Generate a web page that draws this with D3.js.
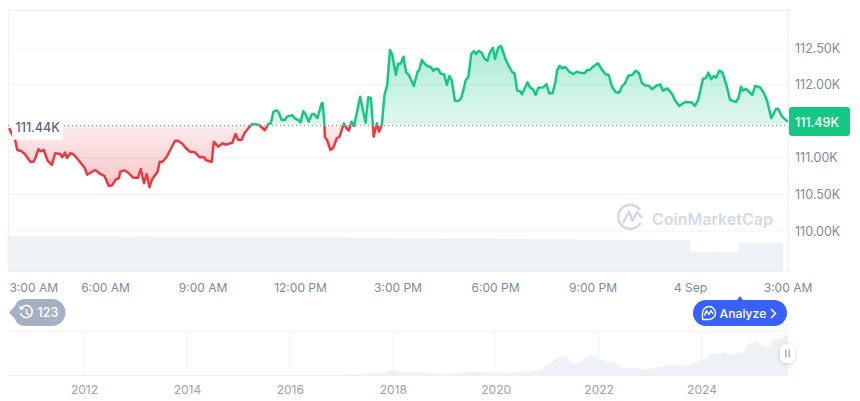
<!DOCTYPE html>
<html>
<head>
<meta charset="utf-8">
<script src="https://cdn.jsdelivr.net/npm/d3@7"></script>
<style>
html, body { margin: 0; padding: 0; background: #fff; overflow: hidden; }
svg { display: block; font-family: Inter, "Noto Sans", sans-serif; }
</style>
</head>
<body>
<script>
// minutes after 3:00 AM, 3 Sep
var minutes = [3,6,14,18,25,32,42,48,51,57,61,67,74,82,88,97,101,106,110,116,121,131,143,147,162,171,179,187,193,200,206,208,216,224,232,241,246,252,257,262,267,277,281,286,294,303,309,314,322,329,337,346,355,363,366,377,381,389,397,402,415,421,426,432,438,448,451,464,475,481,486,491,497,501,506,512,516,526,531,537,541,546,550,556,562,566,572,580,582,585,586,590,596,601,608,613,621,626,630,635,640,651,661,666,671,676,682,686,691,696,701,706,710,717,721,726,731,736,741,750,757,760,765,771,777,781,786,790,795,800,806,811,816,820,826,832,837,841,846,851,856,861,865,870,876,881,886,891,896,900,906,911,920,926,932,936,941,946,950,960,965,970,975,980,989,995,1000,1006,1011,1015,1019,1024,1030,1037,1044,1051,1057,1066,1070,1075,1081,1090,1098,1104,1110,1116,1123,1129,1135,1140,1146,1153,1160,1166,1171,1177,1185,1190,1197,1205,1210,1218,1227,1232,1240,1251,1263,1269,1275,1284,1289,1294,1299,1304,1308,1314,1320,1328,1334,1345,1350,1354,1358,1363,1368,1375,1380,1389,1395,1402,1410,1419,1423,1430,1441];
var prices = [111403,111357,111243,111107,111093,111052,110947,110947,110984,111116,111089,111107,110961,110902,111062,111052,111007,111070,110997,111062,111052,110970,110857,110769,110833,110779,110752,110615,110624,110706,110724,110810,110829,110788,110728,110728,110847,110652,110779,110597,110706,110810,110947,110943,111015,111144,111230,111234,111198,111134,111083,111075,111007,111007,110970,110943,111220,111152,111198,111179,111206,111325,111243,111243,111343,111435,111462,111452,111376,111458,111471,111630,111649,111616,111516,111516,111562,111581,111534,111516,111485,111635,111598,111493,111598,111598,111540,111745,111745,111448,111280,111243,111107,111130,111267,111288,111471,111403,111370,111493,111435,111835,111480,111827,111813,111288,111471,111357,111448,111858,111995,112473,112418,112131,112286,112286,112381,112163,112131,111981,112176,112199,112336,112277,112245,112245,112190,112217,112213,112149,112141,111995,112118,112063,111780,111776,111803,111903,112063,112108,112414,112459,112418,112463,112428,112350,112327,112449,112504,112350,112504,112531,112336,112245,112168,112154,111917,111913,111868,112031,111958,111936,111858,111958,111963,112008,111881,111881,112018,112199,112254,112223,112240,112176,112145,112176,112163,112158,112199,112199,112245,112291,112199,112141,112131,111971,111895,111889,111981,112018,112122,112131,112190,112154,112026,111990,111981,111936,111981,112004,111917,111949,111872,111790,111708,111762,111758,111708,111790,112081,112086,112163,112072,112118,112094,112190,112163,111971,111790,111762,111827,111971,111917,111944,111909,111858,111981,111963,111903,111790,111540,111671,111667,111562,111490];
var openPrice = 111440;
var lastPrice = 111490;

var volumeMinutes = [0,30,60,90,120,150,180,210,240,270,300,330,360,390,420,450,480,510,540,570,600,630,660,690,720,750,780,810,840,870,900,930,960,990,1020,1050,1080,1110,1140,1170,1200,1230,1260,1290,1320,1350,1380,1432,1440];
var volumeValues = [97,97,96,97,96,96,96,95,96,95,95,95,95,94,94,94,94,93,93,93,93,92,92,92,91,91,91,90,90,90,89,89,88,88,88,87,87,87,86,87,86,86,53,52,53,78,78,0,78];

var priceTicks = [110000,110500,111000,111500,112000,112500];
var hourTicks = [0,180,360,540,720,900,1080,1260,1440];
var hourLabels = ["3:00 AM","6:00 AM","9:00 AM","12:00 PM","3:00 PM","6:00 PM","9:00 PM","4 Sep","3:00 AM"];

var navYears = [2010.52,2013.9,2015.5,2017.0,2017.5,2017.8,2017.96,2018.1,2018.3,2018.6,2019.0,2019.3,2019.5,2019.8,2020.0,2020.2,2020.5,2020.7,2020.9,2021.0,2021.1,2021.2,2021.3,2021.38,2021.47,2021.56,2021.7,2021.78,2021.86,2021.95,2022.05,2022.2,2022.3,2022.45,2022.55,2022.7,2022.9,2023.0,2023.2,2023.3,2023.55,2023.7,2023.85,2024.0,2024.1,2024.2,2024.3,2024.45,2024.6,2024.8,2024.9,2024.98,2025.07,2025.17,2025.3,2025.4,2025.5,2025.58,2025.65,2025.68];
var navPrices = [0,1,1,1,3,7,16,10,8,7,4,5,11,8,8,6,10,11,16,30,38,52,58,55,37,33,45,55,62,50,44,42,39,22,21,20,17,17,25,28,29,26,35,44,48,66,63,66,59,66,90,97,102,86,82,105,107,113,118,112];
var navYearTicks = [2012,2014,2016,2018,2020,2022,2024];

var width = 860, height = 401;
var plotLeft = 8, plotRight = 788, plotTop = 10, plotBottom = 271;

var svg = d3.select("body").append("svg")
    .attr("width", width)
    .attr("height", height);

var x = d3.scaleLinear().domain([0, 1440]).range([7.5, 787.5]);
var y = d3.scaleLinear().domain([110000, 112500]).range([231, 48]);
var yVol = d3.scaleLinear().domain([0, 100]).range([plotBottom, 235]);
var xNav = d3.scaleLinear().domain([2012, 2024]).range([84, 701.5]);
var yNav = d3.scaleLinear().domain([0, 130]).range([375, 331]);

var baseY = y(openPrice);
var series = minutes.map(function (m, i) { return { m: m, p: prices[i] }; });

var defs = svg.append("defs");

var greenGrad = defs.append("linearGradient").attr("id", "greenFill")
    .attr("gradientUnits", "userSpaceOnUse")
    .attr("x1", 0).attr("x2", 0).attr("y1", 46).attr("y2", baseY);
greenGrad.append("stop").attr("offset", 0).attr("stop-color", "#16c784").attr("stop-opacity", 0.36);
greenGrad.append("stop").attr("offset", 1).attr("stop-color", "#16c784").attr("stop-opacity", 0.12);

var redGrad = defs.append("linearGradient").attr("id", "redFill")
    .attr("gradientUnits", "userSpaceOnUse")
    .attr("x1", 0).attr("x2", 0).attr("y1", baseY).attr("y2", 190);
redGrad.append("stop").attr("offset", 0).attr("stop-color", "#ea3943").attr("stop-opacity", 0.1);
redGrad.append("stop").attr("offset", 1).attr("stop-color", "#ea3943").attr("stop-opacity", 0.3);

defs.append("clipPath").attr("id", "aboveBase").append("rect")
    .attr("x", plotLeft).attr("y", 0).attr("width", plotRight - plotLeft).attr("height", baseY);
defs.append("clipPath").attr("id", "belowBase").append("rect")
    .attr("x", plotLeft).attr("y", baseY).attr("width", plotRight - plotLeft).attr("height", plotBottom - baseY);

// frame and grid
var gridColor = "#eff2f5";
svg.append("g").selectAll("line").data(priceTicks).enter().append("line")
    .attr("x1", plotLeft).attr("x2", plotRight)
    .attr("y1", function (d) { return y(d); }).attr("y2", function (d) { return y(d); })
    .attr("stroke", gridColor).attr("stroke-width", 1);
svg.append("line").attr("x1", plotLeft).attr("x2", plotRight + 1).attr("y1", plotTop + 0.5).attr("y2", plotTop + 0.5).attr("stroke", "#eaedf1");
svg.append("line").attr("x1", plotLeft + 0.5).attr("x2", plotLeft + 0.5).attr("y1", plotTop).attr("y2", plotBottom).attr("stroke", gridColor);
svg.append("line").attr("x1", plotRight + 0.5).attr("x2", plotRight + 0.5).attr("y1", plotTop).attr("y2", plotBottom).attr("stroke", "#eaedf1");

// volume
var volArea = d3.area()
    .x(function (d, i) { return x(volumeMinutes[i]); })
    .y0(plotBottom)
    .y1(function (d) { return yVol(d); })
    .curve(d3.curveStepAfter);
svg.append("path").attr("d", volArea(volumeValues)).attr("fill", "#eff2f5");
svg.append("line").attr("x1", plotLeft).attr("x2", plotRight + 1).attr("y1", plotBottom + 0.5).attr("y2", plotBottom + 0.5).attr("stroke", "#eaedf1");

// watermark
var mark = svg.append("g").attr("fill", "none").attr("stroke", "#cfd6e4").attr("stroke-width", 2.4);
mark.append("path").attr("d", "M640.5 223 A12 12 0 1 1 640 210");
mark.append("path").attr("d", "M623 223 L629 211.5 L632.5 221 L637 212 L642 218").attr("stroke-linejoin", "round");
svg.append("text").attr("x", 652).attr("y", 224.5)
    .attr("font-size", 16).attr("font-weight", 600).attr("fill", "#d3d9e5")
    .text("CoinMarketCap");

// price area and line, split at the open price
var priceArea = d3.area()
    .x(function (d) { return x(d.m); })
    .y0(baseY)
    .y1(function (d) { return y(d.p); });
var priceLine = d3.line()
    .x(function (d) { return x(d.m); })
    .y(function (d) { return y(d.p); });

svg.append("path").attr("d", priceArea(series)).attr("fill", "url(#greenFill)").attr("clip-path", "url(#aboveBase)");
svg.append("path").attr("d", priceArea(series)).attr("fill", "url(#redFill)").attr("clip-path", "url(#belowBase)");

svg.append("line").attr("x1", plotLeft).attr("x2", plotRight)
    .attr("y1", baseY).attr("y2", baseY)
    .attr("stroke", "#7f8795").attr("stroke-width", 1).attr("stroke-dasharray", "1,3");

svg.append("path").attr("d", priceLine(series)).attr("fill", "none").attr("stroke", "#16c784")
    .attr("stroke-width", 2.5).attr("stroke-linejoin", "round").attr("clip-path", "url(#aboveBase)");
svg.append("path").attr("d", priceLine(series)).attr("fill", "none").attr("stroke", "#ea3943")
    .attr("stroke-width", 2.5).attr("stroke-linejoin", "round").attr("clip-path", "url(#belowBase)");

// open price label
svg.append("rect").attr("x", 12).attr("y", 118).attr("width", 51).attr("height", 22).attr("rx", 4).attr("fill", "#fff").attr("fill-opacity", 0.94);
svg.append("text").attr("x", 15.5).attr("y", 131.5)
    .attr("font-size", 12.5).attr("font-weight", 500).attr("fill", "#58667e")
    .text((openPrice / 1000).toFixed(2) + "K");

// y axis
var yAxis = d3.axisRight(y)
    .tickValues(priceTicks)
    .tickSize(0)
    .tickPadding(0)
    .tickFormat(function (d) { return (d / 1000).toFixed(2) + "K"; });
var yG = svg.append("g").attr("transform", "translate(795,0)").call(yAxis);
yG.select(".domain").remove();
yG.selectAll("text").attr("font-family", "Inter").attr("font-size", 12.5).attr("fill", "#808a9d");

// last price tag
svg.append("rect").attr("x", 789).attr("y", 107).attr("width", 61).attr("height", 29).attr("rx", 3).attr("fill", "#16c784");
svg.append("text").attr("x", 795).attr("y", 126.5)
    .attr("font-size", 12.5).attr("font-weight", 500).attr("fill", "#fff")
    .text((lastPrice / 1000).toFixed(2) + "K");

// x axis
var xAxis = d3.axisBottom(x)
    .tickValues(hourTicks)
    .tickSize(0)
    .tickPadding(0)
    .tickFormat(function (d, i) { return hourLabels[i]; });
var xG = svg.append("g").attr("transform", "translate(0,283)").call(xAxis);
xG.select(".domain").remove();
xG.selectAll("text").attr("font-family", "Inter").attr("font-size", 12).attr("fill", "#808a9d");
xG.selectAll("text").filter(function (d, i) { return i === 0; })
    .attr("text-anchor", "start").attr("dx", 1.5);

// history badge
svg.append("path").attr("d", "M9 312.5 L15 306 Q17 299 25 299 L52 299 A13.5 13.5 0 0 1 52 326 L25 326 Q17 326 15 319 Z").attr("fill", "#a6b0c3");
var clock = svg.append("g").attr("fill", "none").attr("stroke", "#fff").attr("stroke-width", 1.5);
clock.append("path").attr("d", "M21.5 308 A6 6 0 1 1 20.5 313");
clock.append("path").attr("d", "M26.5 309 L26.5 313 L29.5 315");
clock.append("path").attr("d", "M19.5 306.5 L21 309 L23.5 308");
svg.append("text").attr("x", 37.5).attr("y", 317)
    .attr("font-size", 12.5).attr("font-weight", 500).attr("fill", "#fff").text("123");

// analyze button
svg.append("path").attr("d", "M737 300 L740 296 L743 300 Z").attr("fill", "#3861fb");
svg.append("rect").attr("x", 693).attr("y", 300).attr("width", 94).attr("height", 26).attr("rx", 13).attr("fill", "#3861fb");
var aiIcon = svg.append("g").attr("fill", "none").attr("stroke", "#fff").attr("stroke-width", 1.4).attr("stroke-linejoin", "round");
aiIcon.append("path").attr("d", "M702.5 319.5 L702.5 313 A6.5 6.5 0 1 1 709 319.5 Z");
aiIcon.append("path").attr("d", "M704.5 315.5 L706.5 310.5 L708.8 314.5 L711 310.5 L713 314");
svg.append("text").attr("x", 719.5).attr("y", 318)
    .attr("font-size", 12.2).attr("font-weight", 500).attr("fill", "#fff").text("Analyze");
svg.append("path").attr("d", "M771 309 L775.5 313.5 L771 318").attr("fill", "none").attr("stroke", "#fff").attr("stroke-width", 1.5);

// navigator
var nav = svg.append("g");
nav.append("line").attr("x1", plotLeft).attr("x2", plotRight).attr("y1", 331.5).attr("y2", 331.5).attr("stroke", "#f1f3f6");
nav.selectAll(".navGrid").data(navYearTicks).enter().append("line")
    .attr("class", "navGrid")
    .attr("x1", function (d) { return xNav(d); }).attr("x2", function (d) { return xNav(d); })
    .attr("y1", 331).attr("y2", 375)
    .attr("stroke", "#f1f3f6");
var navArea = d3.area()
    .x(function (d, i) { return xNav(navYears[i]); })
    .y0(375)
    .y1(function (d) { return yNav(d); });
nav.append("path").attr("d", navArea(navPrices)).attr("fill", "#eff2f5");
nav.append("line").attr("x1", plotLeft).attr("x2", plotRight).attr("y1", 375.5).attr("y2", 375.5).attr("stroke", "#eff2f5");

var navAxis = d3.axisBottom(xNav)
    .tickValues(navYearTicks)
    .tickSize(0)
    .tickPadding(0)
    .tickFormat(d3.format("d"));
var navG = svg.append("g").attr("transform", "translate(0,385)").call(navAxis);
navG.select(".domain").remove();
navG.selectAll("text").attr("font-family", "Inter").attr("font-size", 12).attr("fill", "#98a1b3");

// navigator handle
var shadow = defs.append("filter").attr("id", "handleShadow").attr("x", "-50%").attr("y", "-50%").attr("width", "200%").attr("height", "200%");
shadow.append("feDropShadow").attr("dx", 0).attr("dy", 1).attr("stdDeviation", 2).attr("flood-color", "#000").attr("flood-opacity", 0.18);
svg.append("rect").attr("x", 780).attr("y", 344).attr("width", 15).attr("height", 19).attr("rx", 6).attr("fill", "#fff").attr("filter", "url(#handleShadow)");
svg.append("rect").attr("x", 785).attr("y", 349.5).attr("width", 1.5).attr("height", 8).attr("fill", "#a6b0c3");
svg.append("rect").attr("x", 788.5).attr("y", 349.5).attr("width", 1.5).attr("height", 8).attr("fill", "#a6b0c3");
</script>
</body>
</html>
